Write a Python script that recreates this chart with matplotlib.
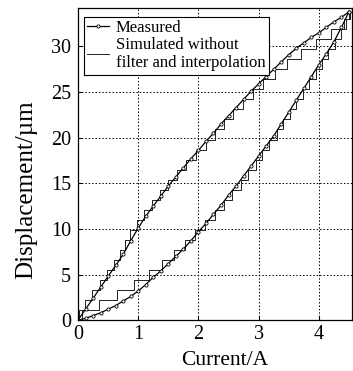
import matplotlib
matplotlib.use("Agg")
import matplotlib.pyplot as plt

plt.rcParams['font.family'] = ['Liberation Serif', 'DejaVu Serif']

# Measured hysteresis loop (current in A, displacement in um)
cur = [0, 0.125, 0.25, 0.375, 0.5, 0.625, 0.75, 0.875, 1.0, 1.125, 1.25, 1.375,
       1.5, 1.625, 1.75, 1.875, 2.0, 2.125, 2.25, 2.375, 2.5, 2.625, 2.75, 2.875,
       3.0, 3.125, 3.25, 3.375, 3.5, 3.625, 3.75, 3.875, 4.0, 4.125, 4.25, 4.375, 4.5]
meas_up = [0, 0.2, 0.5, 0.8, 1.2, 1.6, 2.1, 2.6, 3.2, 3.9, 4.7, 5.4,
           6.2, 7.0, 7.8, 8.7, 9.7, 10.6, 11.6, 12.6, 13.7, 14.7, 15.8, 16.9,
           18.0, 19.1, 20.2, 21.5, 22.8, 24.1, 25.4, 26.7, 28.0, 29.2, 30.5, 32.1, 33.8]
meas_down = [0, 1.2, 2.4, 3.6, 4.8, 6.0, 7.2, 8.7, 10.1, 11.4, 12.5, 13.6,
             14.7, 15.7, 16.7, 17.7, 18.6, 19.6, 20.5, 21.5, 22.4, 23.3, 24.2, 25.1,
             25.9, 26.7, 27.5, 28.3, 29.1, 29.8, 30.4, 31.0, 31.5, 32.1, 32.7, 33.2, 33.8]

# Simulated (staircase) - quantized displacement levels
sim_lvl = [0, 1.1, 2.2, 3.3, 4.4, 5.5, 6.6, 7.7, 8.8, 9.9, 11.0, 12.1, 13.2, 14.3,
           15.4, 16.5, 17.6, 18.7, 19.8, 20.9, 22.0, 23.1, 24.2, 25.3, 26.4, 27.5,
           28.6, 29.7, 30.8, 31.9, 33.0, 33.8]
sim_up_x = [0, 0.06, 0.35, 0.65, 0.93, 1.18, 1.4, 1.6, 1.78, 1.95, 2.11, 2.27,
            2.42, 2.56, 2.7, 2.83, 2.95, 3.06, 3.17, 3.3, 3.41, 3.52, 3.62, 3.73,
            3.83, 3.95, 4.06, 4.16, 4.27, 4.37, 4.45, 4.5]
sim_down_x = [0, 0.02, 0.12, 0.24, 0.36, 0.48, 0.59, 0.69, 0.78, 0.87, 0.98, 1.1,
              1.23, 1.36, 1.5, 1.65, 1.8, 1.96, 2.12, 2.28, 2.43, 2.58, 2.74, 2.9,
              3.08, 3.27, 3.47, 3.7, 3.95, 4.2, 4.42, 4.52]

fig = plt.figure(figsize=(3.53, 3.71), dpi=100)
ax = fig.add_axes([0.221, 0.137, 0.776, 0.841])

# simulated staircases
ax.plot(sim_up_x, sim_lvl, drawstyle='steps-post', color='#222222', lw=0.7)
ax.plot(sim_down_x, sim_lvl, drawstyle='steps-post', color='#222222', lw=0.7,
        label='Simulated without\nfilter and interpolation')

# measured
ax.plot(cur, meas_up, color='black', lw=0.9, marker='o', ms=2.3,
        mfc='white', mec='black', mew=0.6, label='Measured')
ax.plot(cur, meas_down, color='black', lw=0.9, marker='o', ms=2.3,
        mfc='white', mec='black', mew=0.6)

ax.set_xlim(0, 4.55)
ax.set_ylim(0, 34.2)
ax.set_xticks([0, 1, 2, 3, 4])
ax.set_yticks([0, 5, 10, 15, 20, 25, 30])
ax.grid(True, color='black', linestyle=(0, (1.5, 2)), linewidth=0.7)
ax.tick_params(direction='in', length=3, labelsize=14.5)
ax.tick_params(axis='x', pad=3.5)
ax.tick_params(axis='y', pad=5)
for s in ax.spines.values():
    s.set_linewidth(0.9)

ax.set_xlabel('Current/A', fontsize=15.5)
ax.xaxis.set_label_coords(0.535, -0.1)
ax.set_ylabel('Displacement/µm', fontsize=18)
ax.yaxis.set_label_coords(-0.15, 0.417)

h, l = ax.get_legend_handles_labels()
leg = ax.legend([h[1], h[0]], [l[1], l[0]], loc='upper left',
                bbox_to_anchor=(0.022, 0.972), borderaxespad=0, fontsize=12,
                frameon=True, fancybox=False, edgecolor='black', framealpha=1,
                handlelength=1.3, handletextpad=0.4, borderpad=0.2,
                labelspacing=0.05)
leg.get_frame().set_linewidth(0.8)

fig.savefig('out.png', dpi=100)
